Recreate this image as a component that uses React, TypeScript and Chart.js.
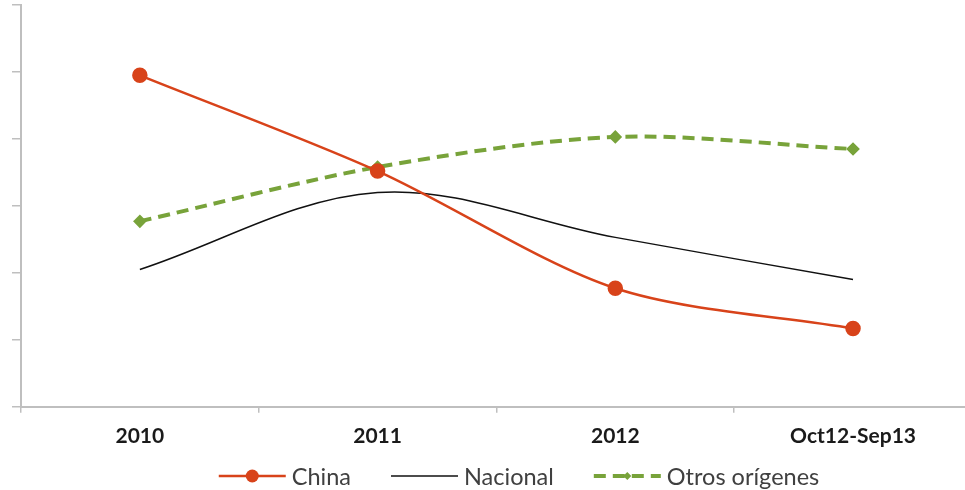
import React, { useEffect, useRef } from 'react';
import { Chart, registerables } from 'chart.js';

Chart.register(...registerables);

const categories = ['2010', '2011', '2012', 'Oct12-Sep13'];
const china = [4.95, 3.52, 1.77, 1.17];
const nacional = [2.05, 3.2, 2.53, 1.9];
const otros = [2.77, 3.58, 4.03, 3.85];
const seriesNames = ['China', 'Nacional', 'Otros orígenes'];
const yMin = 0;
const yMax = 6;
const yStep = 1;

const COLOR_CHINA = '#d8431a';
const COLOR_NACIONAL = '#111111';
const COLOR_OTROS = '#78a33a';
const AXIS = '#bfbfbf';

const toPoints = (vals: number[]) => vals.map((v, i) => ({ x: i, y: v }));

const legendPlugin = {
  id: 'customLegend',
  afterDraw(chart: any) {
    const ctx = chart.ctx;
    ctx.save();
    ctx.font = '23.5px Lato';
    ctx.textBaseline = 'middle';
    const sample = 67;
    const textGap = 6;
    const itemGap = 40;
    const widths = seriesNames.map((n) => ctx.measureText(n).width);
    const total = widths.reduce((a, w) => a + sample + textGap + w, 0) + itemGap * (seriesNames.length - 1);
    let x = 519 - total / 2;
    const y = 476;
    seriesNames.forEach((name, i) => {
      const ds = chart.data.datasets[i];
      ctx.save();
      ctx.strokeStyle = ds.borderColor;
      ctx.lineWidth = ds.borderWidth;
      ctx.setLineDash(ds.borderDash || []);
      ctx.beginPath();
      ctx.moveTo(x, y);
      ctx.lineTo(x + sample, y);
      ctx.stroke();
      ctx.setLineDash([]);
      const cx = x + sample / 2;
      if (ds.pointRadius > 0) {
        ctx.fillStyle = ds.pointBackgroundColor;
        ctx.beginPath();
        if (ds.pointStyle === 'circle') {
          ctx.arc(cx, y, ds.pointRadius, 0, Math.PI * 2);
        } else {
          const r = ds.pointRadius;
          ctx.moveTo(cx, y - r);
          ctx.lineTo(cx + r, y);
          ctx.lineTo(cx, y + r);
          ctx.lineTo(cx - r, y);
          ctx.closePath();
        }
        ctx.fill();
      }
      ctx.restore();
      ctx.fillStyle = '#404040';
      ctx.fillText(name, x + sample + textGap, y + 1);
      x += sample + textGap + widths[i] + itemGap;
    });
    ctx.restore();
  },
};

export default function App() {
  const ref = useRef<HTMLCanvasElement | null>(null);
  useEffect(() => {
    if (!ref.current) return;
    const chart = new Chart(ref.current, {
      type: 'line',
      data: {
        datasets: [
          {
            label: seriesNames[0],
            data: toPoints(china),
            borderColor: COLOR_CHINA,
            backgroundColor: COLOR_CHINA,
            pointBackgroundColor: COLOR_CHINA,
            pointBorderColor: COLOR_CHINA,
            borderWidth: 2.5,
            pointRadius: 6.5,
            pointStyle: 'circle',
            tension: 0.3,
          },
          {
            label: seriesNames[1],
            data: toPoints(nacional),
            borderColor: COLOR_NACIONAL,
            backgroundColor: COLOR_NACIONAL,
            pointBackgroundColor: COLOR_NACIONAL,
            borderWidth: 1.5,
            pointRadius: 0,
            tension: 0.35,
          },
          {
            label: seriesNames[2],
            data: toPoints(otros),
            borderColor: COLOR_OTROS,
            backgroundColor: COLOR_OTROS,
            pointBackgroundColor: COLOR_OTROS,
            pointBorderColor: COLOR_OTROS,
            borderWidth: 4,
            borderDash: [12, 7],
            pointRadius: 4,
            pointStyle: 'rectRot',
            tension: 0.3,
          },
        ] as any,
      },
      options: {
        animation: false,
        responsive: false,
        layout: { autoPadding: false, padding: { left: 12, top: 5, right: 0, bottom: 30 } },
        plugins: { legend: { display: false }, tooltip: { enabled: false } },
        scales: {
          x: {
            type: 'linear',
            min: -0.5,
            max: 3.471,
            afterBuildTicks: (axis: any) => {
              axis.ticks = categories.map((_, i) => ({ value: i }));
            },
            ticks: {
              callback: (v: any) => categories[v as number] ?? '',
              font: { family: 'Lato', size: 21, weight: 'bold' },
              color: '#1a1a1a',
              padding: 11,
              maxRotation: 0,
            },
            grid: {
              offset: true,
              drawOnChartArea: false,
              drawTicks: true,
              tickLength: 6,
              color: AXIS,
              lineWidth: 1.5,
            },
            border: { color: AXIS, width: 2 },
          },
          y: {
            min: yMin,
            max: yMax,
            ticks: { display: false, stepSize: yStep },
            grid: {
              drawOnChartArea: false,
              drawTicks: true,
              tickLength: 9,
              color: AXIS,
              lineWidth: 1.5,
            },
            border: { color: AXIS, width: 2 },
          },
        },
      },
      plugins: [legendPlugin],
    });
    return () => chart.destroy();
  }, []);
  return (
    <div style={{ position: 'absolute', left: 0, top: 0, width: 965, height: 490, background: '#fff' }}>
      <canvas ref={ref} width={965} height={490} />
    </div>
  );
}
